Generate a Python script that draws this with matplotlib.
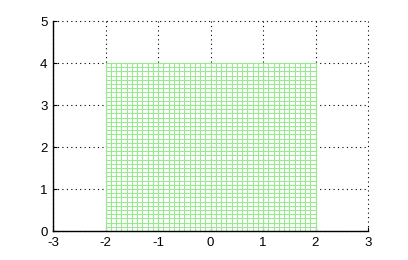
import numpy as np
import matplotlib
matplotlib.use('Agg')
import matplotlib.pyplot as plt

plt.rcParams['axes.unicode_minus'] = False
plt.rcParams['font.family'] = ['Liberation Sans', 'DejaVu Sans']

# mesh grid (meshgrid(-2:0.1:2, 0:0.1:4)) seen from above
x_vals = np.round(np.arange(-2, 2.0001, 0.1), 1)
y_vals = np.round(np.arange(0, 4.0001, 0.1), 1)
x_ticks = [-3, -2, -1, 0, 1, 2, 3]
y_ticks = [0, 1, 2, 3, 4, 5]

X, Y = np.meshgrid(x_vals, y_vals)

fig = plt.figure(figsize=(4.08, 2.6), dpi=100)
ax = fig.add_axes([53/408, 1 - 231/260, (368-53)/408, (231-21)/260])

mesh_col = '#96ec8c'
ax.plot(X, Y, color=mesh_col, lw=0.75, zorder=2)
ax.plot(X.T, Y.T, color=mesh_col, lw=0.75, zorder=2)

ax.set_xlim(-3, 3)
ax.set_ylim(0, 5)
ax.set_xticks(x_ticks)
ax.set_yticks(y_ticks)
ax.grid(True, linestyle=(0, (1, 3)), color='black', lw=0.8, zorder=1)
for g in ax.get_xgridlines() + ax.get_ygridlines():
    g.set_clip_on(False)
ax.spines['top'].set_visible(False)
ax.spines['right'].set_visible(False)
ax.spines['left'].set_linewidth(1.0)
ax.spines['bottom'].set_linewidth(1.0)
ax.spines['left'].set_zorder(3)
ax.spines['bottom'].set_zorder(3)
ax.tick_params(direction='in', length=3, labelsize=9.5, width=0.8)
ax.tick_params(axis='x', pad=4)
ax.tick_params(axis='y', pad=4)

fig.savefig('out.png', dpi=100)
